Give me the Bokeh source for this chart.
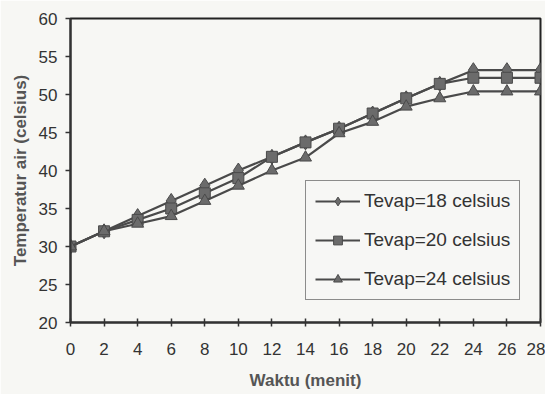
from bokeh.plotting import figure
from bokeh.models import Legend, LegendItem, FixedTicker, Range1d
from bokeh.embed import file_html
from bokeh.resources import INLINE

waktu = [0, 2, 4, 6, 8, 10, 12, 14, 16, 18, 20, 22, 24, 26, 28]
tevap18 = [30, 32, 34, 36, 38, 40, 41.8, 43.7, 45.5, 47.5, 49.5, 51.4, 53.2, 53.2, 53.2]
tevap20 = [30, 32, 33.5, 35, 37, 39, 41.8, 43.7, 45.5, 47.5, 49.5, 51.4, 52.2, 52.2, 52.2]
tevap24 = [30, 32, 33, 34, 36, 38, 40, 41.7, 44.9, 46.4, 48.4, 49.5, 50.4, 50.4, 50.4]
labels = ["Tevap=18 celsius", "Tevap=20 celsius", "Tevap=24 celsius"]
x_ticks = list(range(0, 29, 2))
y_ticks = list(range(20, 61, 5))

FONT = "Liberation Sans"
LINE = "#4a4a4a"
MARK = "#6b6b6b"

p = figure(width=545, height=394, output_backend="svg", toolbar_location=None,
           x_range=Range1d(0, 28), y_range=Range1d(20, 60),
           min_border_left=70, min_border_right=5, min_border_top=18, min_border_bottom=72,
           background_fill_color="#f7f7f4", border_fill_color="#f7f7f4")
p.outline_line_color = "#222222"
p.outline_line_width = 2
p.xgrid.visible = False
p.ygrid.visible = False

r1l = p.line(waktu, tevap18, line_color=LINE, line_width=2.2)
r1m = p.scatter(waktu, tevap18, marker="diamond", size=15, fill_color=MARK, line_color=LINE)
r2l = p.line(waktu, tevap20, line_color=LINE, line_width=2.2)
r2m = p.scatter(waktu, tevap20, marker="square", size=11, fill_color=MARK, line_color=LINE)
r3l = p.line(waktu, tevap24, line_color=LINE, line_width=2.2)
r3m = p.scatter(waktu, tevap24, marker="triangle", size=12, fill_color=MARK, line_color=LINE)

legend = Legend(items=[LegendItem(label=labels[0], renderers=[r1l, r1m]),
                       LegendItem(label=labels[1], renderers=[r2l, r2m]),
                       LegendItem(label=labels[2], renderers=[r3l, r3m])],
                location=(235, 22))
legend.border_line_color = "#222222"
legend.border_line_width = 1.5
legend.background_fill_color = "#f7f7f4"
legend.label_text_font = FONT
legend.label_text_font_size = "19px"
legend.label_text_color = "#333333"
legend.label_standoff = 4
legend.glyph_width = 45
legend.glyph_height = 22
legend.label_height = 22
legend.spacing = 17
legend.padding = 9
legend.margin = 0
p.add_layout(legend, "center")

p.xaxis.ticker = FixedTicker(ticks=x_ticks)
p.yaxis.ticker = FixedTicker(ticks=y_ticks)
for ax in (p.xaxis[0], p.yaxis[0]):
    ax.axis_line_color = "#333333"
    ax.axis_line_width = 2
    ax.major_tick_line_color = "#333333"
    ax.major_tick_line_width = 1.5
    ax.minor_tick_line_color = None
    ax.major_label_text_font = FONT
    ax.major_label_text_font_size = "17px"
    ax.major_label_text_color = "#333333"
    ax.axis_label_text_font = FONT
    ax.axis_label_text_font_size = "17px"
    ax.axis_label_text_font_style = "bold"
    ax.axis_label_text_color = "#555555"
p.xaxis.major_tick_in = 4
p.xaxis.major_tick_out = 4
p.yaxis.major_tick_in = 0
p.yaxis.major_tick_out = 5
p.xaxis.major_label_standoff = 16
p.yaxis.major_label_standoff = 8
p.xaxis.axis_label = "Waktu (menit)"
p.yaxis.axis_label = "Temperatur air (celsius)"
p.xaxis.axis_label_standoff = 13
p.yaxis.axis_label_standoff = 6

open("out.html", "w").write(file_html(p, INLINE))
